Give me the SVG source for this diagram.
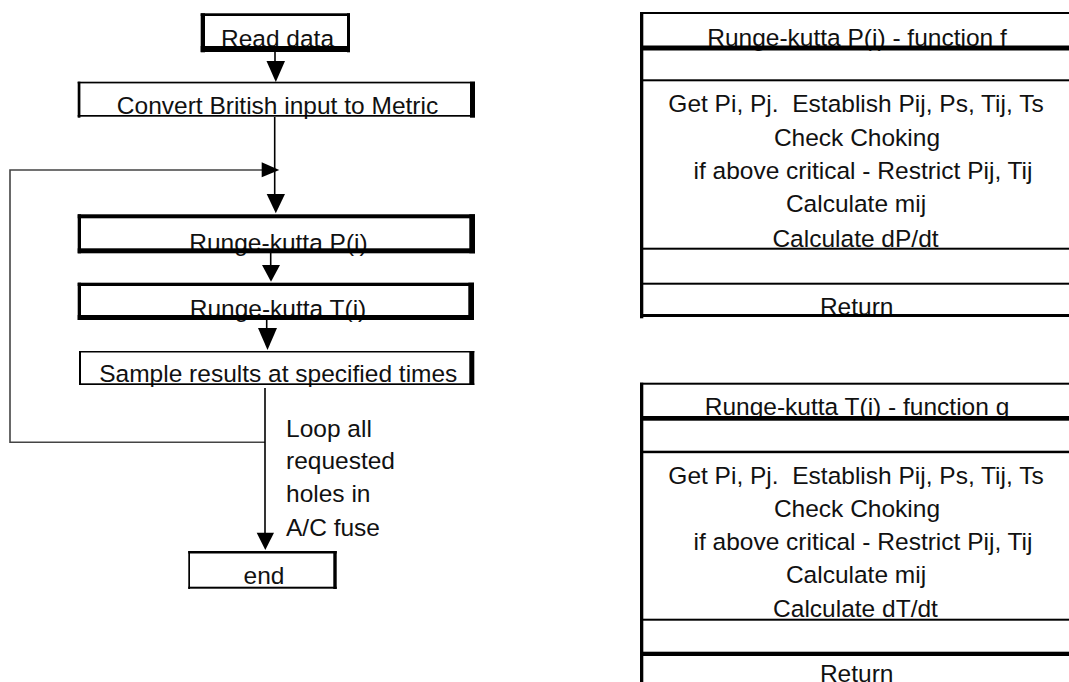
<svg xmlns="http://www.w3.org/2000/svg" width="1069" height="682" viewBox="0 0 1069 682">
<style>
text{font-family:"Liberation Sans",Arial,sans-serif;font-size:24.5px;fill:#111;white-space:pre}
.c{text-anchor:middle}
.b{fill:#000}
.ln{stroke:#000;stroke-width:1.6;fill:none}
.lp{stroke:#444;stroke-width:1.6;fill:none}
.ah{fill:#000}
</style>
<rect width="1069" height="682" fill="#fff"/>
<g id="read-data">
<text class="c" x="277.5" y="47">Read data</text>
<rect class="b" x="200.7" y="13.3" width="149.3" height="2.7"/>
<rect class="b" x="200.7" y="13.3" width="4.3" height="39"/>
<rect class="b" x="347" y="13.3" width="3" height="39"/>
<rect class="b" x="200.7" y="46" width="149.3" height="6"/>
</g>
<g id="convert">
<text class="c" x="277.5" y="113.5">Convert British input to Metric</text>
<rect class="b" x="77.7" y="81.7" width="397.3" height="1.7"/>
<rect class="b" x="77.7" y="81.7" width="2.7" height="36"/>
<rect class="b" x="470" y="81.7" width="5" height="36"/>
<rect class="b" x="77.7" y="115" width="397.3" height="1.7"/>
</g>
<g id="rk-p">
<text class="c" x="278.5" y="250.5">Runge-kutta P(i)</text>
<rect class="b" x="77.7" y="214.3" width="397.3" height="4"/>
<rect class="b" x="77.7" y="214.3" width="3.3" height="39"/>
<rect class="b" x="469.3" y="214.3" width="5.7" height="39"/>
<rect class="b" x="77.7" y="248.3" width="397.3" height="5"/>
</g>
<g id="rk-t">
<text class="c" x="278" y="317">Runge-kutta T(i)</text>
<rect class="b" x="77.7" y="282.7" width="396.3" height="3.3"/>
<rect class="b" x="77.7" y="282.7" width="3.3" height="37.3"/>
<rect class="b" x="468.3" y="282.7" width="5.7" height="37.3"/>
<rect class="b" x="77.7" y="315" width="396.3" height="5"/>
</g>
<g id="sample">
<text class="c" x="278.3" y="381.5">Sample results at specified times</text>
<rect class="b" x="79" y="351" width="395.3" height="1.5"/>
<rect class="b" x="79" y="351" width="2" height="34"/>
<rect class="b" x="469.3" y="351" width="5" height="34"/>
<rect class="b" x="79" y="383.3" width="395.3" height="1.7"/>
</g>
<g id="end">
<text class="c" x="264" y="584">end</text>
<rect class="b" x="188.3" y="551" width="148.4" height="2.5"/>
<rect class="b" x="188.3" y="551" width="1.7" height="38"/>
<rect class="b" x="333.3" y="551" width="3.4" height="38"/>
<rect class="b" x="188.3" y="586.7" width="148.4" height="2"/>
</g>
<g id="loop-label">
<text x="286" y="436.5">Loop all</text>
<text x="286" y="469">requested</text>
<text x="286" y="502">holes in</text>
<text x="286" y="535.5">A/C fuse</text>
</g>
<g id="connectors">
<line class="ln" x1="275" y1="52" x2="275" y2="62"/>
<polygon class="ah" points="266.5,61 285,61 275.8,82"/>
<line class="ln" x1="274.7" y1="117" x2="274.7" y2="195"/>
<polygon class="ah" points="266.7,194 285,194 275.8,213.3"/>
<polyline class="lp" points="265,442.3 10,442.3 10,170 262,170"/>
<polygon class="ah" points="261.7,162.3 279.3,170 261.7,177.2"/>
<line class="ln" x1="270.7" y1="253" x2="270.7" y2="266"/>
<polygon class="ah" points="262,265 280,265 271,281.7"/>
<line class="ln" x1="266.7" y1="320" x2="266.7" y2="329"/>
<polygon class="ah" points="258,328 277,328 267.5,350"/>
<line class="ln" x1="265" y1="388" x2="265" y2="534"/>
<polygon class="ah" points="256.7,532.7 274,532.7 265.3,550"/>
</g>
<g id="function-f">
<text class="c" x="857" y="45.5">Runge-kutta P(i) - function f</text>
<text class="c" x="856" y="112">Get Pi, Pj.  Establish Pij, Ps, Tij, Ts</text>
<text class="c" x="857" y="145.5">Check Choking</text>
<text class="c" x="863" y="179">if above critical - Restrict Pij, Tij</text>
<text class="c" x="856" y="212">Calculate mij</text>
<text class="c" x="855.5" y="247">Calculate dP/dt</text>
<text class="c" x="856.7" y="314.5">Return</text>
<rect class="b" x="640" y="12" width="3.3" height="306.3"/>
<rect class="b" x="640" y="12" width="429" height="2"/>
<rect class="b" x="640" y="45.5" width="429" height="5"/>
<rect class="b" x="640" y="79.3" width="429" height="2"/>
<rect class="b" x="640" y="247.7" width="429" height="2"/>
<rect class="b" x="640" y="282.7" width="429" height="2"/>
<rect class="b" x="640" y="314" width="429" height="3"/>
</g>
<g id="function-g">
<text class="c" x="857" y="415">Runge-kutta T(i) - function g</text>
<text class="c" x="856" y="484">Get Pi, Pj.  Establish Pij, Ps, Tij, Ts</text>
<text class="c" x="857" y="517">Check Choking</text>
<text class="c" x="863" y="550">if above critical - Restrict Pij, Tij</text>
<text class="c" x="856" y="582.5">Calculate mij</text>
<text class="c" x="855.5" y="616.5">Calculate dT/dt</text>
<text class="c" x="856.7" y="682">Return</text>
<rect class="b" x="640" y="382.7" width="3.3" height="299.3"/>
<rect class="b" x="640" y="382.7" width="429" height="2"/>
<rect class="b" x="640" y="416" width="429" height="4.7"/>
<rect class="b" x="640" y="450.7" width="429" height="2.5"/>
<rect class="b" x="640" y="618.7" width="429" height="2"/>
<rect class="b" x="640" y="651.7" width="429" height="4.3"/>
</g>
</svg>
